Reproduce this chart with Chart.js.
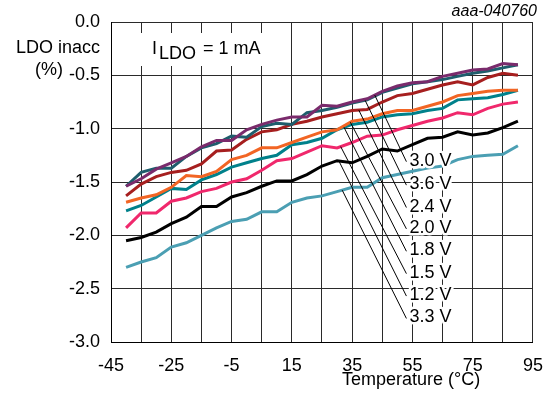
<!DOCTYPE html>
<html>
<head>
<meta charset="utf-8">
<script src="https://cdn.jsdelivr.net/npm/chart.js@4/dist/chart.umd.min.js"></script>
<style>
  html, body { margin: 0; padding: 0; background: #fff; }
  canvas { display: block; }
</style>
</head>
<body>
<canvas id="chart" width="556" height="396"></canvas>
<script>
// temperature steps (°C)
const temps = [-40, -35, -30, -25, -20, -15, -10, -5, 0, 5, 10, 15, 20, 25, 30, 35, 40, 45, 50, 55, 60, 65, 70, 75, 80, 85, 90]

// LDO inaccuracy (%) per supply voltage
const v30 = [-1.54, -1.47, -1.38, -1.32, -1.26, -1.17, -1.11, -1.11, -1.01, -0.96, -0.92, -0.89, -0.89, -0.78, -0.79, -0.75, -0.72, -0.65, -0.60, -0.57, -0.56, -0.51, -0.48, -0.45, -0.44, -0.39, -0.40]
const v36 = [-1.54, -1.41, -1.37, -1.37, -1.26, -1.18, -1.14, -1.07, -1.08, -0.98, -0.95, -0.96, -0.85, -0.83, -0.80, -0.76, -0.73, -0.66, -0.62, -0.58, -0.56, -0.54, -0.51, -0.48, -0.46, -0.43, -0.40]
const v24 = [-1.63, -1.52, -1.45, -1.41, -1.39, -1.33, -1.21, -1.20, -1.10, -1.03, -1.01, -0.96, -0.93, -0.89, -0.86, -0.83, -0.82, -0.75, -0.69, -0.67, -0.63, -0.59, -0.56, -0.59, -0.52, -0.48, -0.50]
const v20 = [-1.69, -1.65, -1.62, -1.55, -1.44, -1.45, -1.40, -1.29, -1.25, -1.18, -1.18, -1.13, -1.08, -1.03, -1.01, -0.93, -0.91, -0.86, -0.83, -0.83, -0.79, -0.75, -0.69, -0.67, -0.65, -0.64, -0.64]
const v18 = [-1.77, -1.72, -1.64, -1.56, -1.57, -1.48, -1.43, -1.36, -1.32, -1.28, -1.25, -1.15, -1.13, -1.09, -1.01, -0.96, -0.94, -0.89, -0.87, -0.86, -0.83, -0.81, -0.73, -0.72, -0.71, -0.68, -0.64]
const v15 = [-1.93, -1.79, -1.79, -1.68, -1.65, -1.59, -1.56, -1.50, -1.47, -1.39, -1.30, -1.28, -1.22, -1.16, -1.18, -1.13, -1.07, -1.06, -1.01, -0.97, -0.93, -0.90, -0.85, -0.87, -0.81, -0.77, -0.75]
const v12 = [-2.05, -2.02, -1.97, -1.89, -1.83, -1.73, -1.73, -1.64, -1.60, -1.54, -1.49, -1.49, -1.43, -1.35, -1.30, -1.32, -1.26, -1.19, -1.21, -1.15, -1.09, -1.08, -1.03, -1.06, -1.04, -0.99, -0.93]
const v33 = [-2.30, -2.25, -2.21, -2.11, -2.07, -2.00, -1.93, -1.87, -1.85, -1.78, -1.78, -1.69, -1.65, -1.63, -1.59, -1.55, -1.55, -1.46, -1.43, -1.40, -1.37, -1.35, -1.29, -1.26, -1.25, -1.24, -1.16]

// series labels, top to bottom as stacked at the right
const seriesNames = ['3.0 V', '3.6 V', '2.4 V', '2.0 V', '1.8 V', '1.5 V', '1.2 V', '3.3 V']
const seriesValues = [v30, v36, v24, v20, v18, v15, v12, v33]
const seriesColors = ['#7a2b6c', '#1e5d6c', '#a61f1f', '#f26524', '#00818b', '#f0286c', '#000000', '#4b9fb3']

// where each leader line touches its curve (°C), and where the labels sit
const leaderTemps = [42.5, 39.3, 37.2, 34.4, 32.3, 31.2, 30.6, 31.7]
const labelTemp = 54
const labelValues = [-1.30, -1.52, -1.73, -1.93, -2.14, -2.35, -2.56, -2.77]

const xTicks = { min: -45, max: 95, step: 10 }
const yTicks = { min: -3, max: 0, step: 0.5 }

const FONT = '"Liberation Sans", Arial, sans-serif'

const valueAt = (series, t) => {
    for (let i = 0; i < temps.length - 1; i++) {
        if (t >= temps[i] && t <= temps[i + 1]) {
            const f = (t - temps[i]) / (temps[i + 1] - temps[i])
            return series[i] + f * (series[i + 1] - series[i])
        }
    }
    return series[series.length - 1]
}

const textPlugin = {
    id: 'chartTexts',
    beforeDatasetsDraw(chart) {
        const ctx = chart.ctx
        ctx.save()
        // blank box behind the condition text
        ctx.fillStyle = '#fff'
        ctx.fillRect(136, 33, 132, 33)
        ctx.fillStyle = '#000'
        ctx.font = '18px ' + FONT
        ctx.textBaseline = 'alphabetic'
        ctx.textAlign = 'left'
        ctx.fillText('I', 152, 54)
        ctx.fillText('LDO', 159, 59)
        ctx.fillText('= 1 mA', 203, 54)

        // y axis title
        ctx.textAlign = 'right'
        ctx.fillText('LDO inacc', 100, 53)
        ctx.textAlign = 'left'
        ctx.fillText('(%)', 35, 75)

        // x axis title
        ctx.fillText('Temperature (°C)', 342, 385)

        // figure id
        ctx.font = 'italic 16px ' + FONT
        ctx.textAlign = 'right'
        ctx.fillText('aaa-040760', 537, 16)
        ctx.restore()
    },
    afterDatasetsDraw(chart) {
        const ctx = chart.ctx
        const xs = chart.scales.x
        const ys = chart.scales.y
        ctx.save()
        const lx = xs.getPixelForValue(labelTemp)
        seriesNames.forEach((name, i) => {
            const ax = xs.getPixelForValue(leaderTemps[i])
            const ay = ys.getPixelForValue(valueAt(seriesValues[i], leaderTemps[i]))
            const ly = ys.getPixelForValue(labelValues[i])
            ctx.strokeStyle = '#000'
            ctx.lineWidth = 1
            ctx.beginPath()
            ctx.moveTo(ax, ay)
            ctx.lineTo(lx - 3, ly + 1)
            ctx.stroke()
        })
        ctx.font = '18px ' + FONT
        ctx.textAlign = 'left'
        ctx.textBaseline = 'middle'
        ctx.lineJoin = 'round'
        seriesNames.forEach((name, i) => {
            const ly = ys.getPixelForValue(labelValues[i])
            ctx.strokeStyle = '#fff'
            ctx.lineWidth = 5
            ctx.strokeText(name, lx, ly)
            ctx.fillStyle = '#000'
            ctx.fillText(name, lx, ly)
        })
        ctx.restore()
    }
}

const datasets = seriesNames.map((name, i) => ({
    label: name,
    data: temps.map((t, j) => ({ x: t, y: seriesValues[i][j] })),
    borderColor: seriesColors[i],
    backgroundColor: seriesColors[i],
    borderWidth: 3,
    pointRadius: 0,
    tension: 0,
    fill: false
}))

const gridColor = '#2a2a2a'

new Chart(document.getElementById('chart').getContext('2d'), {
    type: 'line',
    data: { datasets: datasets },
    options: {
        responsive: false,
        animation: false,
        layout: { padding: { left: 0, right: 18, top: 22, bottom: 0 } },
        plugins: {
            legend: { display: false },
            tooltip: { enabled: false },
            title: { display: false }
        },
        scales: {
            x: {
                type: 'linear',
                min: xTicks.min,
                max: xTicks.max,
                afterFit: (scale) => { scale.height = 54 },
                grid: { color: gridColor, lineWidth: 1, drawTicks: false },
                border: { color: '#000', width: 1 },
                ticks: {
                    stepSize: xTicks.step,
                    autoSkip: false,
                    maxRotation: 0,
                    padding: 13,
                    color: '#000',
                    font: { family: FONT, size: 18 },
                    callback: (v) => ((v - xTicks.min) % 20 === 0 ? String(v) : '')
                }
            },
            y: {
                type: 'linear',
                min: yTicks.min,
                max: yTicks.max,
                afterFit: (scale) => { scale.width = 111 },
                grid: { color: gridColor, lineWidth: 1, drawTicks: false },
                border: { color: '#000', width: 1 },
                ticks: {
                    stepSize: yTicks.step,
                    padding: 11,
                    color: '#000',
                    font: { family: FONT, size: 18 },
                    callback: (v) => Number(v).toFixed(1)
                }
            }
        }
    },
    plugins: [textPlugin]
})
</script>
</body>
</html>
